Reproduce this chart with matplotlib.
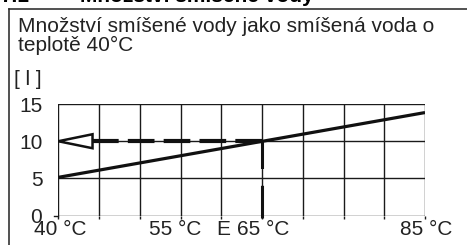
import matplotlib
matplotlib.use("Agg")
import matplotlib.pyplot as plt
from matplotlib.lines import Line2D
from matplotlib.patches import Polygon

# chart data
temps = [40, 85]               # mixed water temperature (°C)
volume = [5.15, 13.85]         # mixed water volume [l]
read_temp = 65                 # reading temperature (°C)
read_volume = 10               # read value [l]
x_grid = list(range(40, 90, 5))
y_ticks = [0, 5, 10, 15]
x_labels = {40: "40 °C", 55: "55 °C", 60: "E", 65: "65 °C", 85: "85 °C"}

header_num = "7.1"
header = "Množství smíšené vody"
title = "Množství smíšené vody jako smíšená voda o\nteplotě 40°C"
unit = "[ l ]"

plt.rcParams['font.family'] = ['Liberation Sans', 'DejaVu Sans']
FS = 15
TXT = "#222222"

W, H = 467, 245
fig = plt.figure(figsize=(W / 100, H / 100), dpi=100)
fig.patch.set_facecolor("white")

# frame around the chart block
fig.add_artist(Line2D([9 / W, 9 / W], [0, 1 - 9.5 / H], color="#222222", lw=1.1))
fig.add_artist(Line2D([9 / W, 1], [1 - 9.5 / H, 1 - 9.5 / H], color="#222222", lw=1.1))

# cut-off section header at the very top
fig.text(0.0, 1 - 2.5 / H, header_num, fontsize=FS, fontweight="bold", va="baseline", ha="left")
fig.text(80 / W, 1 - 2.5 / H, header, fontsize=FS, fontweight="bold", va="baseline", ha="left")

fig.text(18 / W, 1 - 17 / H, title, fontsize=FS, va="top", ha="left",
         linespacing=1.0, color=TXT)
fig.text(42 / W, 1 - 85 / H, unit, fontsize=FS, va="baseline", ha="right", color=TXT)

left, right, top, bottom = 58.3, 425, 104, 215.7
ax = fig.add_axes([left / W, 1 - bottom / H, (right - left) / W, (bottom - top) / H])
ax.set_xlim(40, 85)
ax.set_ylim(0, 15)
for s in ax.spines.values():
    s.set_visible(False)

for x in x_grid:
    ax.plot([x, x], [0, 15], color="#1a1a1a", lw=1.0, zorder=1)
for y in y_ticks:
    ax.plot([40, 85], [y, y], color="#1a1a1a", lw=1.0, zorder=1)
# short stub left of the origin
ax.plot([39.5, 40], [0, 0], color="#1a1a1a", lw=1.0, zorder=1, clip_on=False)

ax.set_xticks(x_grid)
ax.set_xticklabels([])
ax.tick_params(axis="x", direction="out", length=2.5, width=1.0, color="#1a1a1a")
ax.set_yticks(y_ticks)
ax.set_yticklabels([str(v) for v in y_ticks], fontsize=FS, color=TXT)
ax.tick_params(axis="y", length=0, pad=11.5)

for x, lab in x_labels.items():
    dx = -0.7 if x == 55 else 0.2
    ax.text(x + dx, -0.6, lab, fontsize=FS, ha="center", va="top", color=TXT)

# characteristic line
ax.plot(temps, volume, color="#111111", lw=2.3, zorder=3, solid_capstyle="butt")

# reading arrows
head_len, head_half = 4.2, 0.94
ax.plot([read_temp, temps[0] + head_len], [read_volume, read_volume], color="#111111",
        lw=3.0, dashes=(6.4, 2.2), zorder=4, dash_capstyle="butt")
ax.plot([read_temp, read_temp], [read_volume, -0.3], color="#111111", lw=2.2,
        dashes=(9.0, 5.5, 11.0, 2.0), zorder=4, clip_on=False, dash_capstyle="butt")
tri = Polygon([[temps[0], read_volume], [temps[0] + head_len, read_volume + head_half],
               [temps[0] + head_len, read_volume - head_half]], closed=True,
              facecolor="white", edgecolor="#111111", lw=1.8, zorder=5, clip_on=False)
ax.add_patch(tri)

fig.savefig("out.png", dpi=100)
